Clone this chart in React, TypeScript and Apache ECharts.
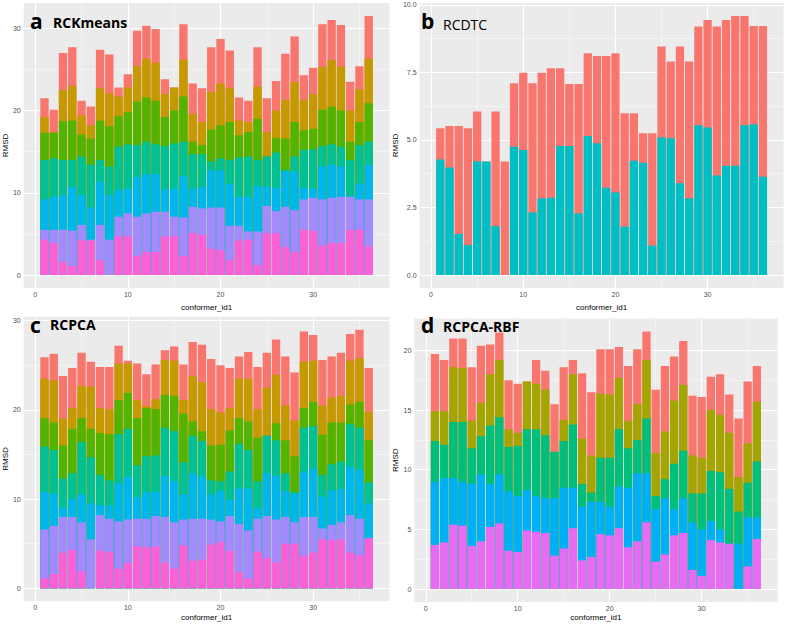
import React, { useEffect, useRef } from "react";
import * as echarts from "echarts";

// conformer ids (x values)
const conformerIds = [1,2,3,4,5,6,7,8,9,10,11,12,13,14,15,16,17,18,19,20,21,22,23,24,25,26,27,28,29,30,31,32,33,34,35,36];

// x axis ticks
const xTicks = [0, 10, 20, 30];
const xMinorTicks = [5, 15, 25, 35];

// Panel a – RCKmeans (segment heights)
const rckRed = [2.3,2.7,4.5,4.7,1.8,2.3,4.7,4.7,1.1,1.6,4.3,4.0,4.1,1.8,0,4.3,3.7,4.1,5.4,5.4,4.6,2.8,2.6,4.8,4.1,3.6,5.6,5.5,3.0,3.2,5.2,4.9,5.1,3.5,2.8,5.2];
const rckOlive = [1.9,0.1,3.8,4.2,2.3,1.6,3.9,4.0,2.4,3.0,4.3,4.7,4.6,2.8,2.8,4.5,3.4,2.8,4.6,5.1,4.1,1.8,1.2,3.9,3.0,3.3,4.7,4.9,3.7,4.2,5.2,5.6,5.3,3.8,4.0,5.4];
const rckGreen = [3.3,3.1,4.7,4.8,2.7,3.2,4.8,4.9,3.7,3.9,5.3,5.4,5.3,3.5,4.0,5.5,1.5,1.1,3.9,4.0,4.6,2.7,3.0,5.0,0,1.8,3.8,4.2,2.4,2.5,4.4,4.6,4.4,2.2,2.8,4.7];
const rckTeal = [4.8,4.7,4.3,3.3,4.7,5.2,2.7,3.5,5.3,5.4,3.9,3.9,3.6,5.3,5.5,4.2,4.2,4.0,1.1,1.5,2.9,4.8,4.9,3.2,3.7,4.3,0.2,1.8,4.6,4.8,2.5,2.5,2.4,4.4,4.7,2.8];
const rckBlue = [3.7,4.0,4.2,5.3,3.6,3.9,5.2,5.4,3.2,3.0,4.8,4.8,4.6,2.7,3.4,5.0,2.2,2.6,4.5,4.5,5.1,3.5,4.2,5.5,2.3,2.8,4.3,4.7,1.4,1.1,4.0,4.0,3.7,0.1,1.9,4.2];
const rckPurple = [1.2,1.6,3.9,4.3,1.9,0.1,4.3,4.3,2.4,2.8,4.8,4.7,4.9,3.0,2.4,4.7,3.2,3.2,5.0,5.2,4.2,1.8,1.0,4.1,3.3,2.7,4.9,5.1,3.7,4.0,5.6,5.5,5.6,4.0,3.7,5.7];
const rckPink = [4.3,3.9,1.6,1.1,4.2,4.2,1.8,0,4.7,4.7,2.3,2.8,2.8,4.7,4.7,2.3,5.1,4.9,3.2,3.0,1.8,4.2,4.3,1.2,5.1,5.1,3.4,2.8,5.5,5.4,3.6,3.9,3.9,5.5,5.5,3.5];
const rckYTicks = [0, 10, 20, 30];
const rckYMinor = [5, 15, 25];

// Panel b – RCDTC
const dtcRed = [1.15,1.54,4.0,4.32,1.85,0,4.24,4.2,2.35,2.86,4.78,4.65,4.79,2.87,2.29,4.79,3.06,3.23,4.88,5.15,4.2,1.76,1.09,4.16,3.37,2.84,5.06,5.06,3.66,3.98,5.52,5.39,5.54,4.05,3.64,5.58];
const dtcTeal = [4.28,3.98,1.52,1.11,4.2,4.2,1.81,0,4.75,4.63,2.32,2.84,2.86,4.78,4.78,2.28,5.15,4.88,3.23,3.06,1.79,4.23,4.16,1.09,5.09,5.06,3.4,2.84,5.54,5.46,3.68,4.05,4.05,5.54,5.58,3.64];
const dtcYTicks = [0, 2.5, 5, 7.5, 10];
const dtcYMinor = [1.25, 3.75, 6.25, 8.75];

// Panel c – RCPCA
const pcaRed = [2.4,3.0,4.8,4.5,3.7,2.8,4.6,4.7,2.0,0.3,4.1,3.6,3.9,1.1,1.6,4.0,3.8,4.2,5.6,5.3,4.5,2.5,3.0,4.7,3.9,4.0,5.5,5.4,3.4,2.9,5.1,4.6,4.8,3.0,3.2,4.9];
const pcaOlive = [4.4,4.7,3.0,2.3,3.6,4.7,2.8,2.8,4.1,3.3,2.0,0.2,1.1,3.9,3.9,1.5,5.1,5.5,4.1,3.6,2.5,4.4,4.8,3.2,5.4,5.4,3.9,4.0,5.2,4.6,3.3,2.8,3.0,4.9,4.9,3.2];
const pcaGreen = [3.2,3.1,3.7,5.0,2.7,3.2,4.7,5.2,3.8,4.0,5.3,5.4,5.2,3.7,4.0,5.5,1.6,1.1,3.9,4.1,4.6,2.9,3.2,4.9,0,1.9,3.7,4.0,2.2,2.7,4.5,4.7,4.4,2.2,2.9,4.7];
const pcaTeal = [5.1,4.9,3.3,2.9,5.9,5.2,3.4,2.8,5.5,5.4,3.6,4.0,4.1,5.4,5.6,3.6,4.2,4.0,1.6,1.1,3.2,5.0,4.3,3.0,4.2,4.0,2.0,0.2,5.0,4.8,2.4,2.9,3.1,4.8,4.7,2.4];
const pcaBlue = [4.2,3.6,1.0,2.0,3.1,4.0,1.1,1.5,4.3,4.8,2.4,3.0,2.7,4.6,4.6,2.8,5.1,4.7,2.8,3.4,1.8,4.0,4.7,1.2,4.8,4.9,2.9,3.2,5.0,5.4,3.6,3.9,3.7,5.4,5.5,3.9];
const pcaPurple = [5.5,5.4,4.0,3.7,5.5,5.5,4.0,3.7,5.3,4.9,3.1,3.2,3.4,5.1,5.2,2.9,4.7,4.6,2.8,2.3,3.9,5.4,5.4,3.7,4.7,4.8,3.0,2.4,4.4,4.0,1.2,1.7,1.9,4.2,4.1,0];
const pcaPink = [1.1,1.6,4.0,4.3,1.9,0,4.2,4.1,2.2,2.8,4.7,4.6,4.7,2.9,2.2,4.8,3.1,3.2,4.9,5.2,4.2,1.8,1.1,4.1,3.4,2.9,5.0,5.0,3.6,4.0,5.5,5.4,5.5,4.0,3.7,5.6];
const pcaYTicks = [0, 10, 20, 30];
const pcaYMinor = [5, 15, 25];

// Panel d – RCPCA-RBF
const rbfRed = [4.8,4.3,2.4,2.5,4.5,4.8,2.5,2.3,4.1,4.1,0,2.0,1.6,4.0,4.4,1.2,5.5,5.3,3.7,3.8,2.6,4.6,4.6,2.4,5.3,5.5,3.7,3.7,5.0,5.1,2.8,3.4,3.2,4.9,5.2,3.0];
const rbfOlive = [2.5,2.8,4.6,4.5,2.3,2.8,4.3,4.8,1.5,1.1,4.0,3.8,3.8,0,1.8,4.2,3.8,3.1,5.4,5.3,4.3,2.3,3.0,4.9,3.6,4.0,5.3,5.5,3.2,3.0,5.1,4.8,4.7,2.9,3.3,5.0];
const rbfGreen = [3.4,2.8,4.7,5.0,3.0,3.2,4.9,4.8,3.7,4.2,5.1,5.6,5.3,3.9,3.9,5.3,1.9,0.8,3.7,4.1,4.8,3.3,2.8,4.6,1.1,1.6,3.8,4.0,2.4,3.0,4.2,4.8,4.6,2.7,2.9,4.7];
const rbfBlue = [5.3,5.4,3.9,3.7,5.2,5.6,3.6,4.1,5.0,4.7,3.4,3.0,2.9,4.8,5.1,3.4,4.5,4.6,2.7,2.4,3.5,5.0,5.7,4.1,4.4,4.7,2.2,2.9,4.0,3.9,1.6,1.1,0,3.8,4.1,1.8];
const rbfMagenta = [3.7,3.9,5.4,5.3,3.6,4.0,5.2,5.5,3.2,3.1,4.9,4.8,4.7,2.8,3.4,5.1,2.4,2.7,4.6,4.5,5.1,3.5,4.0,5.6,2.3,2.9,4.5,4.7,1.6,1.1,4.1,3.9,3.8,0,1.9,4.2];
const rbfYTicks = [0, 5, 10, 15, 20];
const rbfYMinor = [2.5, 7.5, 12.5, 17.5];

// ggplot-like expanded x range (bars 0.55..36.45, 5% padding)
const X_MIN = -1.245;
const X_MAX = 38.245;

type Layer = { name: string; color: string; data: number[] };
type Panel = {
  letter: string;
  title: string;
  titleWeight: string;
  grid: { left: number; top: number; width: number; height: number };
  layers: Layer[]; // bottom -> top
  yTicks: number[];
  yMinor: number[];
  yFmt: (v: number) => string;
  yNameGap: number;
  xNameGap: number;
  letterPos: [number, number];
  titlePos: [number, number];
};

const panels: Panel[] = [
  {
    letter: "a", title: "RCKmeans", titleWeight: "bold",
    grid: { left: 23.5, top: 3, width: 366, height: 285 },
    layers: [
      { name: "7", color: "#FB61D7", data: rckPink },
      { name: "6", color: "#A58AFF", data: rckPurple },
      { name: "5", color: "#00B6EB", data: rckBlue },
      { name: "4", color: "#00C094", data: rckTeal },
      { name: "3", color: "#53B400", data: rckGreen },
      { name: "2", color: "#C49A00", data: rckOlive },
      { name: "1", color: "#F8766D", data: rckRed },
    ],
    yTicks: rckYTicks, yMinor: rckYMinor, yFmt: (v) => String(v),
    yNameGap: 14, xNameGap: 15, letterPos: [30, 21], titlePos: [53, 22],
  },
  {
    letter: "b", title: "RCDTC", titleWeight: "normal",
    grid: { left: 419.6, top: 3, width: 364, height: 285 },
    layers: [
      { name: "2", color: "#00BFC4", data: dtcTeal },
      { name: "1", color: "#F8766D", data: dtcRed },
    ],
    yTicks: dtcYTicks, yMinor: dtcYMinor, yFmt: (v) => v.toFixed(1),
    yNameGap: 16, xNameGap: 15, letterPos: [421, 21], titlePos: [443, 24],
  },
  {
    letter: "c", title: "RCPCA", titleWeight: "bold",
    grid: { left: 23.5, top: 316.7, width: 366, height: 284.5 },
    layers: [
      { name: "7", color: "#FB61D7", data: pcaPink },
      { name: "6", color: "#A58AFF", data: pcaPurple },
      { name: "5", color: "#00B6EB", data: pcaBlue },
      { name: "4", color: "#00C094", data: pcaTeal },
      { name: "3", color: "#53B400", data: pcaGreen },
      { name: "2", color: "#C49A00", data: pcaOlive },
      { name: "1", color: "#F8766D", data: pcaRed },
    ],
    yTicks: pcaYTicks, yMinor: pcaYMinor, yFmt: (v) => String(v),
    yNameGap: 14, xNameGap: 12, letterPos: [30, 325], titlePos: [50, 324],
  },
  {
    letter: "d", title: "RCPCA-RBF", titleWeight: "bold",
    grid: { left: 414.3, top: 318.5, width: 363.2, height: 283.4 },
    layers: [
      { name: "5", color: "#E76BF3", data: rbfMagenta },
      { name: "4", color: "#00B0F6", data: rbfBlue },
      { name: "3", color: "#00BF7D", data: rbfGreen },
      { name: "2", color: "#A3A500", data: rbfOlive },
      { name: "1", color: "#F8766D", data: rbfRed },
    ],
    yTicks: rbfYTicks, yMinor: rbfYMinor, yFmt: (v) => String(v),
    yNameGap: 12, xNameGap: 12, letterPos: [421, 325], titlePos: [443, 326],
  },
];

// cumulative tops for each layer (bottom -> top), used to draw the stack
function cumulative(layers: Layer[]): number[][] {
  const out: number[][] = [];
  let running = conformerIds.map(() => 0);
  layers.forEach((l) => {
    running = running.map((r, i) => r + l.data[i]);
    out.push(running.slice());
  });
  return out;
}

function yExtent(layers: Layer[]): [number, number] {
  const cum = cumulative(layers);
  const mx = Math.max(...cum[cum.length - 1]);
  const pad = mx * 0.05;
  return [-pad, mx + pad];
}

const AXIS_FONT = '"Liberation Sans", Arial, sans-serif';
const TITLE_FONT = '"Open Sans", "Noto Sans", sans-serif';

export default function App() {
  const ref = useRef<HTMLDivElement>(null);

  useEffect(() => {
    if (!ref.current) return;
    const chart = echarts.init(ref.current, undefined, { renderer: "svg" });

    const major = { color: "#FFFFFF", width: 1, type: "solid" as const, opacity: 1 };
    const minor = { color: "#FFFFFF", width: 0.5, type: "solid" as const, opacity: 0.9 };

    const grids = panels.map((p) => ({
      ...p.grid,
      show: true,
      backgroundColor: "#EBEBEB",
      borderWidth: 0,
      containLabel: false,
    }));

    const xAxes = panels.map((p, i) => ({
      type: "value",
      gridIndex: i,
      min: X_MIN,
      max: X_MAX,
      name: "conformer_id1",
      nameLocation: "middle",
      nameGap: p.xNameGap,
      nameTextStyle: { fontSize: 8, color: "#000", fontFamily: AXIS_FONT },
      axisLine: { show: false },
      splitLine: { show: false },
      axisTick: { show: true, customValues: xTicks, length: 2.5, lineStyle: { color: "#333", width: 0.8 } },
      axisLabel: { customValues: xTicks, fontSize: 7, color: "#4D4D4D", margin: 3, fontFamily: AXIS_FONT },
    }));

    const yAxes = panels.map((p, i) => {
      const [mn, mx] = yExtent(p.layers);
      return {
        type: "value",
        gridIndex: i,
        min: mn,
        max: mx,
        name: "RMSD",
        nameLocation: "middle",
        nameGap: p.yNameGap,
        nameRotate: 90,
        nameTextStyle: { fontSize: 8, color: "#000", fontFamily: AXIS_FONT },
        axisLine: { show: false },
        splitLine: { show: false },
        axisTick: { show: true, customValues: p.yTicks, length: 2.5, lineStyle: { color: "#333", width: 0.8 } },
        axisLabel: {
          customValues: p.yTicks,
          fontSize: 7,
          color: "#4D4D4D",
          margin: 3,
          fontFamily: AXIS_FONT,
          formatter: (v: number) => p.yFmt(v),
        },
      };
    });

    const series: any[] = [];
    panels.forEach((p, i) => {
      const cum = cumulative(p.layers);
      // draw the top layer first so that lower layers are painted over it
      for (let k = p.layers.length - 1; k >= 0; k--) {
        const layer = p.layers[k];
        const s: any = {
          type: "bar",
          name: `${p.letter}-${layer.name}`,
          xAxisIndex: i,
          yAxisIndex: i,
          barWidth: "90%",
          barGap: "-100%",
          z: 3,
          itemStyle: { color: layer.color },
          emphasis: { disabled: true },
          data: conformerIds.map((id, j) => [id, cum[k][j]]),
        };
        if (k === p.layers.length - 1) {
          s.markLine = {
            silent: true,
            z: 1,
            symbol: ["none", "none"],
            label: { show: false },
            emphasis: { disabled: true },
            data: [
              ...p.yMinor.map((v) => ({ yAxis: v, lineStyle: minor })),
              ...xMinorTicks.map((v) => ({ xAxis: v, lineStyle: minor })),
              ...p.yTicks.map((v) => ({ yAxis: v, lineStyle: major })),
              ...xTicks.map((v) => ({ xAxis: v, lineStyle: major })),
            ],
          };
        }
        series.push(s);
      }
    });

    const graphic: any[] = [];
    panels.forEach((p) => {
      graphic.push({
        type: "text",
        x: p.letterPos[0],
        y: p.letterPos[1],
        z: 10,
        style: {
          text: p.letter,
          font: `bold 21px ${TITLE_FONT}`,
          fill: "#000",
          verticalAlign: "middle",
          align: "left",
        },
      });
      graphic.push({
        type: "text",
        x: p.titlePos[0],
        y: p.titlePos[1],
        z: 10,
        style: {
          text: p.title,
          font: `${p.titleWeight} 14px ${TITLE_FONT}`,
          fill: "#000",
          verticalAlign: "middle",
          align: "left",
        },
      });
    });

    chart.setOption({
      animation: false,
      backgroundColor: "#FFFFFF",
      grid: grids,
      xAxis: xAxes,
      yAxis: yAxes,
      series,
      graphic,
    });

    return () => chart.dispose();
  }, []);

  return (
    <div
      ref={ref}
      style={{ position: "fixed", left: 0, top: 0, width: 786, height: 625, background: "#fff" }}
    />
  );
}
